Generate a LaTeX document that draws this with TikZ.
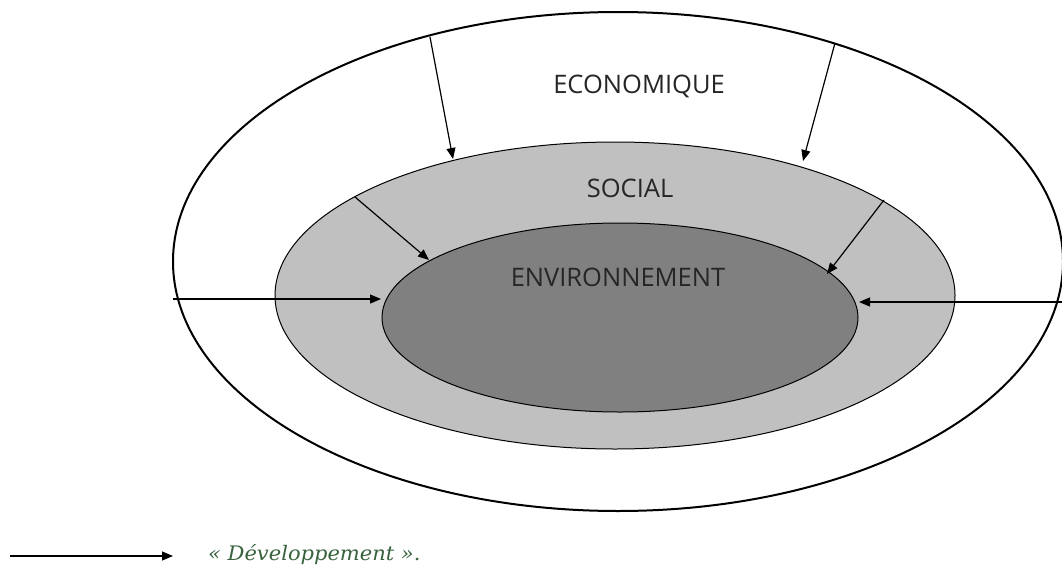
\documentclass[tikz,border=0pt]{standalone}
\usepackage{fontspec}
\usepackage{graphicx}
\setmainfont{DejaVu Serif}
\newfontfamily\labelfont{Open Sans}
\usetikzlibrary{arrows.meta,shapes.geometric}
\definecolor{socialgray}{RGB}{192,192,192}
\definecolor{envgray}{RGB}{128,128,128}
\definecolor{legendgreen}{RGB}{56,98,62}
\tikzset{
  ring/.style={ellipse, draw=black, inner sep=0pt},
  flow/.style={-{Triangle[length=11pt,width=9pt]}, line width=1.2pt},
  lbl/.style={font=\labelfont\fontsize{25.5}{25.5}\selectfont, text=black!85, inner sep=0pt},
}
\begin{document}
\begin{tikzpicture}[x=1pt,y=-1pt]
\useasboundingbox (0,0) rectangle (1062,570);
% ellipses
\node[ring, line width=2pt, minimum width=890pt, minimum height=499pt] (eco) at (618,261.5) {};
\node[ring, fill=socialgray, line width=1pt, minimum width=680pt, minimum height=307pt] (soc) at (615,295.5) {};
\node[ring, fill=envgray, line width=1pt, minimum width=476pt, minimum height=189pt] (env) at (620,317.5) {};
% labels
\node[lbl] (teco) at (639,86) {ECONOMIQUE};
\node[lbl] (tsoc) at (630,188) {SOCIAL};
\node[lbl] (tenv) at (618,277) {ENVIRONNEMENT};
% arrow endpoints
\coordinate (a1s) at (430,37);
\coordinate (a1e) at (453,159);
\coordinate (a2s) at (835,43);
\coordinate (a2e) at (803,161);
\coordinate (a3s) at (355,197);
\coordinate (a3e) at (429,260);
\coordinate (a4s) at (884,200);
\coordinate (a4e) at (827,274);
\coordinate (a5s) at (173,299);
\coordinate (a5e) at (381,299);
\coordinate (a6s) at (1064,302);
\coordinate (a6e) at (859,302);
\draw[flow] (a1s) -- (a1e);
\draw[flow] (a2s) -- (a2e);
\draw[flow] (a3s) -- (a3e);
\draw[flow] (a4s) -- (a4e);
\draw[flow] (a5s) -- (a5e);
\draw[flow] (a6s) -- (a6e);
% legend
\coordinate (ls) at (10,556);
\coordinate (le) at (173,556);
\draw[flow] (ls) -- (le);
\node[anchor=west, inner sep=0pt, text=legendgreen, font=\itshape\fontsize{20}{20}\selectfont] (leg) at (208,555) {\scalebox{1.05}[1]{« Développement ».}};
\end{tikzpicture}
\end{document}
